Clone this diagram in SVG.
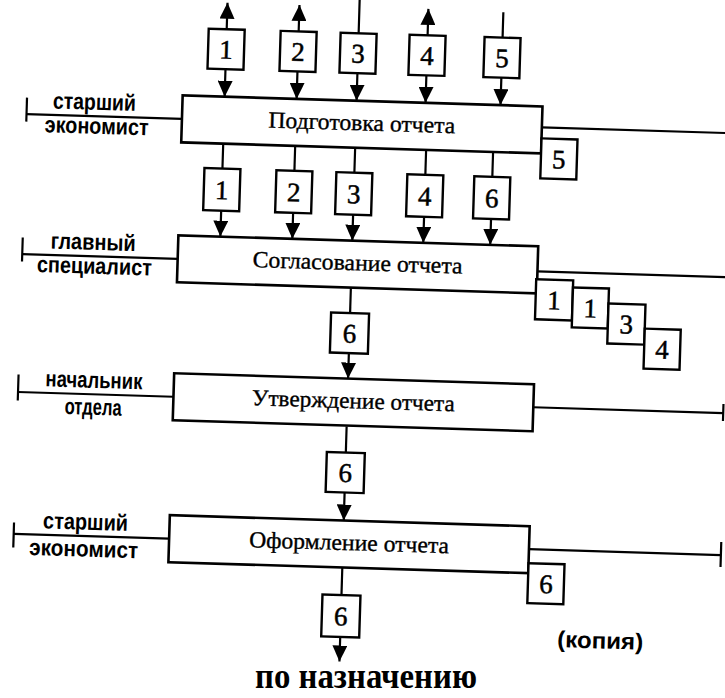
<svg xmlns="http://www.w3.org/2000/svg" width="725" height="698" viewBox="0 0 725 698">
<defs>
<style>
.bx{fill:#fff;stroke:#000;stroke-width:2.6}
.sb{fill:#fff;stroke:#000;stroke-width:2.4}
.ln{fill:none;stroke:#000;stroke-width:2.2}
.tx{font-family:"Liberation Serif","Times New Roman",serif;font-size:23px;fill:#000;stroke:#000;stroke-width:0.35;text-anchor:middle}
.dg{font-family:"Liberation Serif","Times New Roman",serif;font-size:27px;fill:#000;stroke:#000;stroke-width:0.5;text-anchor:middle}
.lb{font-family:"Liberation Sans",Arial,sans-serif;font-size:23px;font-weight:bold;fill:#000;text-anchor:middle}
.bt{font-family:"Liberation Serif","Times New Roman",serif;font-size:36px;font-weight:bold;fill:#000;text-anchor:middle}
</style>
<marker id="ah" markerUnits="userSpaceOnUse" markerWidth="16" markerHeight="15" refX="16" refY="7.5" orient="auto" viewBox="0 0 16 15">
<path d="M0,0 L16,7.5 L0,15 z" fill="#000"/>
</marker>
</defs>
<rect width="725" height="698" fill="#fff"/>
<g transform="rotate(1.75 362 349)">
<g id="connectors">
<line class="ln" x1="217" y1="33.5" x2="217" y2="7" marker-end="url(#ah)"/>
<line class="ln" x1="289" y1="33.5" x2="289" y2="7" marker-end="url(#ah)"/>
<line class="ln" x1="349" y1="33.5" x2="349" y2="-12"/>
<line class="ln" x1="418" y1="33.5" x2="418" y2="7" marker-end="url(#ah)"/>
<line class="ln" x1="493" y1="33.5" x2="493" y2="8"/>
<line class="ln" x1="217" y1="73.5" x2="217" y2="101" marker-end="url(#ah)"/>
<line class="ln" x1="289" y1="73.5" x2="289" y2="101" marker-end="url(#ah)"/>
<line class="ln" x1="349" y1="73.5" x2="349" y2="101" marker-end="url(#ah)"/>
<line class="ln" x1="418" y1="73.5" x2="418" y2="101" marker-end="url(#ah)"/>
<line class="ln" x1="493" y1="73.5" x2="493" y2="101" marker-end="url(#ah)"/>
<line class="ln" x1="217" y1="148" x2="217" y2="173"/>
<line class="ln" x1="289" y1="148" x2="289" y2="173"/>
<line class="ln" x1="349" y1="148" x2="349" y2="173"/>
<line class="ln" x1="420" y1="148" x2="420" y2="173"/>
<line class="ln" x1="487" y1="148" x2="487" y2="173"/>
<line class="ln" x1="217" y1="215" x2="217" y2="241" marker-end="url(#ah)"/>
<line class="ln" x1="289" y1="215" x2="289" y2="241" marker-end="url(#ah)"/>
<line class="ln" x1="349" y1="215" x2="349" y2="241" marker-end="url(#ah)"/>
<line class="ln" x1="420" y1="215" x2="420" y2="241" marker-end="url(#ah)"/>
<line class="ln" x1="487" y1="215" x2="487" y2="241" marker-end="url(#ah)"/>
<line class="ln" x1="349" y1="288" x2="349" y2="313.5"/>
<line class="ln" x1="349" y1="353.5" x2="349" y2="379" marker-end="url(#ah)"/>
<line class="ln" x1="349" y1="427" x2="349" y2="453"/>
<line class="ln" x1="349" y1="493" x2="349" y2="521" marker-end="url(#ah)"/>
<line class="ln" x1="349" y1="568" x2="349" y2="595.5"/>
<line class="ln" x1="349" y1="637.5" x2="349" y2="662" marker-end="url(#ah)"/>
<line class="ln" x1="19.5" y1="124.5" x2="175" y2="124.5"/>
<line class="ln" x1="19.5" y1="108" x2="19.5" y2="132"/>
<line class="ln" x1="19.5" y1="264.5" x2="175" y2="264.5"/>
<line class="ln" x1="19.5" y1="248" x2="19.5" y2="272"/>
<line class="ln" x1="19.5" y1="402.5" x2="175" y2="402.5"/>
<line class="ln" x1="19.5" y1="385" x2="19.5" y2="411"/>
<line class="ln" x1="19.5" y1="544.5" x2="175" y2="544.5"/>
<line class="ln" x1="19.5" y1="533" x2="19.5" y2="558"/>
<line class="ln" x1="535" y1="122" x2="770" y2="122"/>
<line class="ln" x1="535" y1="266" x2="770" y2="266"/>
<line class="ln" x1="535" y1="402" x2="725" y2="402"/>
<line class="ln" x1="725" y1="393" x2="725" y2="410"/>
<line class="ln" x1="535" y1="544" x2="727" y2="544"/>
<line class="ln" x1="727" y1="531" x2="727" y2="556"/>
</g>

<g id="n-prep">
<rect class="bx" x="175" y="101" width="360" height="47"/>
<text class="tx" x="355" y="130.5" textLength="187" lengthAdjust="spacingAndGlyphs">Подготовка отчета</text>
<text class="lb" x="87" y="118" textLength="83" lengthAdjust="spacingAndGlyphs">старший</text>
<text class="lb" x="90" y="142" textLength="104" lengthAdjust="spacingAndGlyphs">экономист</text>
</g>
<g id="n-agree">
<rect class="bx" x="175" y="241" width="360" height="47"/>
<text class="tx" x="355" y="270.5" textLength="210" lengthAdjust="spacingAndGlyphs">Согласование отчета</text>
<text class="lb" x="90" y="258" textLength="85" lengthAdjust="spacingAndGlyphs">главный</text>
<text class="lb" x="92" y="282" textLength="115" lengthAdjust="spacingAndGlyphs">специалист</text>
</g>
<g id="n-approve">
<rect class="bx" x="175" y="379" width="360" height="47"/>
<text class="tx" x="355" y="408.5" textLength="203" lengthAdjust="spacingAndGlyphs">Утверждение отчета</text>
<text class="lb" x="95" y="396" textLength="97" lengthAdjust="spacingAndGlyphs">начальник</text>
<text class="lb" x="95" y="423" textLength="57" lengthAdjust="spacingAndGlyphs">отдела</text>
</g>
<g id="n-format">
<rect class="bx" x="175" y="521" width="360" height="47"/>
<text class="tx" x="355" y="550.5" textLength="200" lengthAdjust="spacingAndGlyphs">Оформление отчета</text>
<text class="lb" x="91" y="538" textLength="85" lengthAdjust="spacingAndGlyphs">старший</text>
<text class="lb" x="90" y="565" textLength="109" lengthAdjust="spacingAndGlyphs">экономист</text>
</g>

<g id="doc-top-1"><rect class="sb" x="199" y="33.5" width="36" height="40"/><text class="dg" x="217" y="63">1</text></g>
<g id="doc-top-2"><rect class="sb" x="271" y="33.5" width="36" height="40"/><text class="dg" x="289" y="63">2</text></g>
<g id="doc-top-3"><rect class="sb" x="331" y="33.5" width="36" height="40"/><text class="dg" x="349" y="63">3</text></g>
<g id="doc-top-4"><rect class="sb" x="400" y="33.5" width="36" height="40"/><text class="dg" x="418" y="63">4</text></g>
<g id="doc-top-5"><rect class="sb" x="475" y="33.5" width="36" height="40"/><text class="dg" x="493" y="63">5</text></g>

<g id="doc-r2-1"><rect class="sb" x="199" y="173" width="36" height="42"/><text class="dg" x="217" y="203.5">1</text></g>
<g id="doc-r2-2"><rect class="sb" x="271" y="173" width="36" height="42"/><text class="dg" x="289" y="203.5">2</text></g>
<g id="doc-r2-3"><rect class="sb" x="331" y="173" width="36" height="42"/><text class="dg" x="349" y="203.5">3</text></g>
<g id="doc-r2-4"><rect class="sb" x="402" y="173" width="36" height="42"/><text class="dg" x="420" y="203.5">4</text></g>
<g id="doc-r2-6"><rect class="sb" x="469" y="173" width="36" height="42"/><text class="dg" x="487" y="203.5">6</text></g>

<g id="doc-prep-5"><rect class="sb" x="535" y="133" width="36" height="40"/><text class="dg" x="553" y="162.5">5</text></g>

<g id="doc-agree-1a"><rect class="sb" x="534" y="274" width="37" height="40"/><text class="dg" x="552.5" y="303.5">1</text></g>
<g id="doc-agree-1b"><rect class="sb" x="571" y="281" width="36" height="40"/><text class="dg" x="589" y="310.5">1</text></g>
<g id="doc-agree-3"><rect class="sb" x="607" y="296" width="37" height="40"/><text class="dg" x="625.5" y="325.5">3</text></g>
<g id="doc-agree-4"><rect class="sb" x="644" y="320" width="36" height="40"/><text class="dg" x="662" y="349.5">4</text></g>

<g id="doc-6a"><rect class="sb" x="330" y="313.5" width="38" height="40"/><text class="dg" x="349" y="343">6</text></g>
<g id="doc-6b"><rect class="sb" x="330" y="453" width="38" height="40"/><text class="dg" x="349" y="482.5">6</text></g>
<g id="doc-6c"><rect class="sb" x="330" y="595.5" width="38" height="42"/><text class="dg" x="349" y="626">6</text></g>
<g id="doc-6-copy"><rect class="sb" x="535" y="558" width="36" height="40"/><text class="dg" x="553" y="587.5">6</text></g>

<text class="lb" x="609" y="641" textLength="86" lengthAdjust="spacingAndGlyphs">(копия)</text>
</g>
<text class="bt" x="366" y="688" textLength="222" lengthAdjust="spacingAndGlyphs">по назначению</text>
</svg>
